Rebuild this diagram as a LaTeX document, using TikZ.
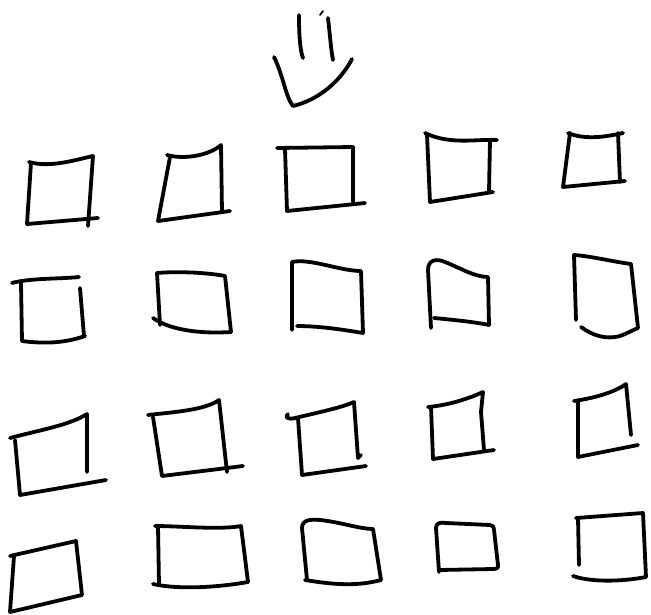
\documentclass[tikz,border=0pt]{standalone}
\begin{document}
\begin{tikzpicture}[x=1pt,y=-1pt,
  ink/.style={line width=3.8pt, line cap=round, line join=round, black}]
\useasboundingbox (0,0) rectangle (651,614);
% arrow
\draw[ink] (299,15) .. controls (299,35) and (300,50) .. (303,58);
\draw[ink] (328,18) .. controls (330,35) and (331,50) .. (333,60);
\draw[ink, line width=1.8pt] (320,15) -- (323,11);
\draw[ink] (274,57) .. controls (283,75) and (286,98) .. (293,106) .. controls (318,100) and (340,82) .. (352,59);
% row 1
\draw[ink] (29,162) .. controls (50,168) and (75,160) .. (93,156) -- (88,226);
\draw[ink] (31,163) -- (27,224) -- (98,218);
\draw[ink] (170,157) -- (158,221) -- (230,211);
\draw[ink] (167,155) .. controls (185,160) and (210,155) .. (221,145) -- (222,212);
\draw[ink] (277,148) -- (353,147) -- (353,202);
\draw[ink] (285,149) -- (287,211) -- (365,203);
\draw[ink] (425,133) .. controls (450,145) and (475,139) .. (497,140);
\draw[ink] (427,135) -- (430,202) -- (493,192);
\draw[ink] (490,140) -- (489,192);
\draw[ink] (568,133) .. controls (585,140) and (605,137) .. (623,133);
\draw[ink] (570,133) -- (563,187) -- (625,181);
\draw[ink] (618,133) -- (620,182);
% row 2
\draw[ink] (12,283) .. controls (30,278) and (60,279) .. (79,277);
\draw[ink] (21,283) -- (22,341) .. controls (45,344) and (65,343) .. (85,336);
\draw[ink] (80,288) -- (84,336);
\draw[ink] (157,273) -- (160,325);
\draw[ink] (157,273) .. controls (180,271) and (210,273) .. (225,276) -- (231,332);
\draw[ink] (153,318) .. controls (170,330) and (200,334) .. (231,332);
\draw[ink] (292,330) -- (292,262) .. controls (310,258) and (340,271) .. (361,271) -- (363,333);
\draw[ink] (297,326) .. controls (320,326) and (345,330) .. (363,333);
\draw[ink] (431,328) -- (428,270) .. controls (428,260) and (436,258) .. (445,262) .. controls (460,268) and (475,277) .. (488,277) -- (489,325);
\draw[ink] (434,318) .. controls (455,320) and (475,322) .. (489,325);
\draw[ink] (576,320) -- (574,255) .. controls (590,256) and (615,262) .. (631,264) -- (638,328);
\draw[ink] (581,327) .. controls (592,335) and (605,340) .. (620,336) .. controls (628,333) and (633,330) .. (638,328);
% row 3
\draw[ink] (10,438) .. controls (40,430) and (70,425) .. (87,414) -- (87,472);
\draw[ink] (15,440) -- (20,495) -- (106,480);
\draw[ink] (148,415) .. controls (175,412) and (205,410) .. (219,400) -- (227,472);
\draw[ink] (153,417) -- (162,476) -- (243,466);
\draw[ink] (288,414) .. controls (284,417) and (288,420) .. (295,418) .. controls (320,412) and (340,408) .. (354,402) -- (358,458) -- (361,455);
\draw[ink] (298,418) -- (302,475) -- (366,466);
\draw[ink] (428,407) .. controls (450,405) and (470,398) .. (483,392) -- (481,412) -- (484,450);
\draw[ink] (431,407) -- (433,459) -- (494,450);
\draw[ink] (574,401) .. controls (595,398) and (615,392) .. (626,384) -- (631,435);
\draw[ink] (578,401) -- (578,457) -- (638,445);
% row 4
\draw[ink] (10,556) -- (76,541) -- (82,595) -- (10,612) -- (14,556);
\draw[ink] (158,526) -- (159,585);
\draw[ink] (155,526) .. controls (180,526) and (220,530) .. (241,526) -- (248,582);
\draw[ink] (153,584) .. controls (180,590) and (220,587) .. (248,582);
\draw[ink] (307,580) -- (302,528) .. controls (302,520) and (310,519) .. (320,520) .. controls (340,522) and (360,529) .. (373,529) -- (381,580);
\draw[ink] (305,580) .. controls (330,584) and (355,587) .. (381,580);
\draw[ink] (439,572) -- (436,528) .. controls (436,523) and (440,522) .. (446,523) -- (490,525) .. controls (494,526) and (494,528) .. (494,530) -- (498,565) .. controls (499,568) and (496,569) .. (493,569) -- (439,570);
\draw[ink] (576,518) -- (643,513) -- (646,577);
\draw[ink] (578,518) -- (579,565);
\draw[ink] (573,576) .. controls (590,582) and (620,582) .. (646,577);
\end{tikzpicture}
\end{document}
